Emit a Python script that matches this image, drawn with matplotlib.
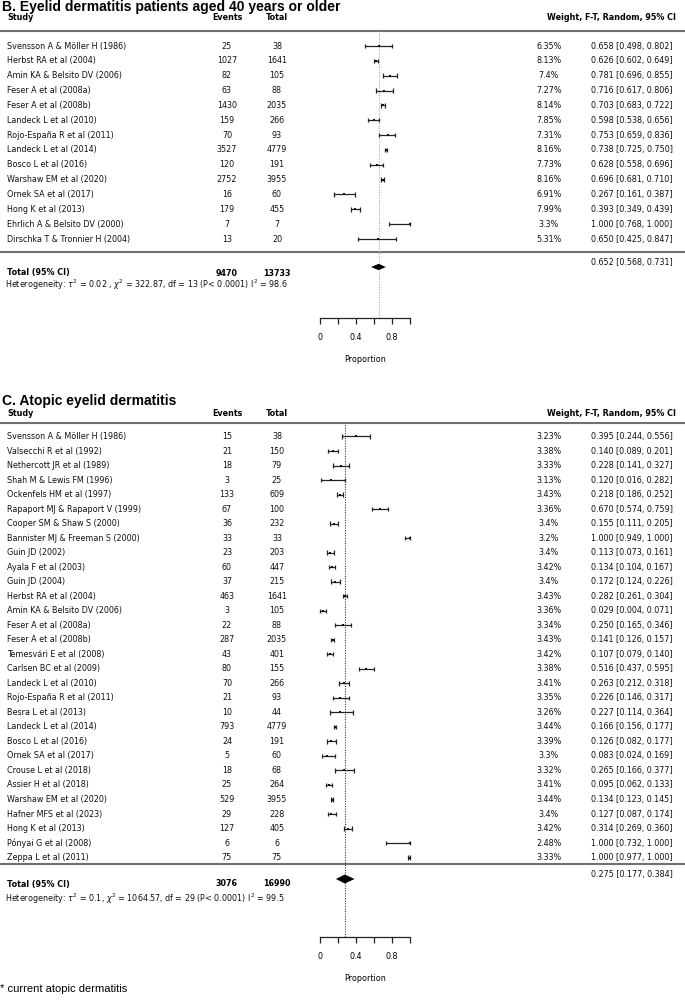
import matplotlib
matplotlib.use("Agg")
import matplotlib.pyplot as plt

# ---------------- data ----------------
b_title = "B. Eyelid dermatitis patients aged 40 years or older"
b_studies = ["Svensson A & Möller H (1986)", "Herbst RA et al (2004)", "Amin KA & Belsito DV (2006)",
             "Feser A et al (2008a)", "Feser A et al (2008b)", "Landeck L et al (2010)",
             "Rojo-España R et al (2011)", "Landeck L et al (2014)", "Bosco L et al (2016)",
             "Warshaw EM et al (2020)", "Ornek SA et al (2017)", "Hong K et al (2013)",
             "Ehrlich A & Belsito DV (2000)", "Dirschka T & Tronnier H (2004)"]
b_events = [25, 1027, 82, 63, 1430, 159, 70, 3527, 120, 2752, 16, 179, 7, 13]
b_total = [38, 1641, 105, 88, 2035, 266, 93, 4779, 191, 3955, 60, 455, 7, 20]
b_weight = ["6.35%", "8.13%", "7.4%", "7.27%", "8.14%", "7.85%", "7.31%", "8.16%", "7.73%",
            "8.16%", "6.91%", "7.99%", "3.3%", "5.31%"]
b_est = [0.658, 0.626, 0.781, 0.716, 0.703, 0.598, 0.753, 0.738, 0.628, 0.696, 0.267, 0.393, 1.000, 0.650]
b_lo = [0.498, 0.602, 0.696, 0.617, 0.683, 0.538, 0.659, 0.725, 0.558, 0.681, 0.161, 0.349, 0.768, 0.425]
b_hi = [0.802, 0.649, 0.855, 0.806, 0.722, 0.656, 0.836, 0.750, 0.696, 0.710, 0.387, 0.439, 1.000, 0.847]
b_sum = (0.652, 0.568, 0.731)
b_sum_events, b_sum_total = 9470, 13733
b_het = r"Heterogeneity: $\tau^2$ = 0.02 , $\chi^2$ = 322.87, df = 13 (P< 0.0001) I$^2$ = 98.6"

c_title = "C. Atopic eyelid dermatitis"
c_studies = ["Svensson A & Möller H (1986)", "Valsecchi R et al (1992)", "Nethercott JR et al (1989)",
             "Shah M & Lewis FM (1996)", "Ockenfels HM et al (1997)", "Rapaport MJ & Rapaport V (1999)",
             "Cooper SM & Shaw S (2000)", "Bannister MJ & Freeman S (2000)", "Guin JD (2002)",
             "Ayala F et al (2003)", "Guin JD (2004)", "Herbst RA et al (2004)",
             "Amin KA & Belsito DV (2006)", "Feser A et al (2008a)", "Feser A et al (2008b)",
             "Temesvári E et al (2008)", "Carlsen BC et al (2009)", "Landeck L et al (2010)",
             "Rojo-España R et al (2011)", "Besra L et al (2013)", "Landeck L et al (2014)",
             "Bosco L et al (2016)", "Ornek SA et al (2017)", "Crouse L et al (2018)",
             "Assier H et al (2018)", "Warshaw EM et al (2020)", "Hafner MFS et al (2023)",
             "Hong K et al (2013)", "Pónyai G et al (2008)", "Zeppa L et al (2011)"]
c_events = [15, 21, 18, 3, 133, 67, 36, 33, 23, 60, 37, 463, 3, 22, 287, 43, 80, 70, 21, 10,
            793, 24, 5, 18, 25, 529, 29, 127, 6, 75]
c_total = [38, 150, 79, 25, 609, 100, 232, 33, 203, 447, 215, 1641, 105, 88, 2035, 401, 155, 266,
           93, 44, 4779, 191, 60, 68, 264, 3955, 228, 405, 6, 75]
c_weight = ["3.23%", "3.38%", "3.33%", "3.13%", "3.43%", "3.36%", "3.4%", "3.2%", "3.4%", "3.42%",
            "3.4%", "3.43%", "3.36%", "3.34%", "3.43%", "3.42%", "3.38%", "3.41%", "3.35%", "3.26%",
            "3.44%", "3.39%", "3.3%", "3.32%", "3.41%", "3.44%", "3.4%", "3.42%", "2.48%", "3.33%"]
c_est = [0.395, 0.140, 0.228, 0.120, 0.218, 0.670, 0.155, 1.000, 0.113, 0.134, 0.172, 0.282, 0.029,
         0.250, 0.141, 0.107, 0.516, 0.263, 0.226, 0.227, 0.166, 0.126, 0.083, 0.265, 0.095, 0.134,
         0.127, 0.314, 1.000, 1.000]
c_lo = [0.244, 0.089, 0.141, 0.016, 0.186, 0.574, 0.111, 0.949, 0.073, 0.104, 0.124, 0.261, 0.004,
        0.165, 0.126, 0.079, 0.437, 0.212, 0.146, 0.114, 0.156, 0.082, 0.024, 0.166, 0.062, 0.123,
        0.087, 0.269, 0.732, 0.977]
c_hi = [0.556, 0.201, 0.327, 0.282, 0.252, 0.759, 0.205, 1.000, 0.161, 0.167, 0.226, 0.304, 0.071,
        0.346, 0.157, 0.140, 0.595, 0.318, 0.317, 0.364, 0.177, 0.177, 0.169, 0.377, 0.133, 0.145,
        0.174, 0.360, 1.000, 1.000]
c_sum = (0.275, 0.177, 0.384)
c_sum_events, c_sum_total = 3076, 16990
c_het = r"Heterogeneity: $\tau^2$ = 0.1, $\chi^2$ = 1064.57, df = 29 (P< 0.0001) I$^2$ = 99.5"

footnote = "* current atopic dermatitis"
xticks = [0, 0.2, 0.4, 0.6, 0.8, 1.0]
xticklabels = ["0", "", "0.4", "", "0.8", ""]

# ---------------- layout ----------------
W, H = 685, 1002
fig = plt.figure(figsize=(W / 100, H / 100), dpi=100)
axT = fig.add_axes([0, 0, 1, 1])
axT.set_xlim(0, W)
axT.set_ylim(H, 0)
axT.axis("off")

FS = 5.8
BODY = "DejaVu Sans"
X_STUDY, X_EV, X_TOT, X_W, X_CI, X_HDR_R = 7, 227, 277, 549, 632, 676
AX_L, AX_R = 320, 410
LINE_C = "#707070"


def panel(title, title_y, hdr_y, hdr_line_y, row0, step, studies, events, totals, weights,
          est, lo, hi, sum_vals, sum_ev, sum_tot, het, sep_y, tot_y, diam_y, diam_h, het_y,
          axis_y, sq, vcol):
    axT.text(2, title_y, title, fontsize=10, fontweight="bold", family="Liberation Sans",
             va="center", ha="left")
    axT.text(X_STUDY, hdr_y, "Study", fontsize=FS, fontweight="bold", family=BODY, va="center")
    axT.text(X_EV, hdr_y, "Events", fontsize=FS, fontweight="bold", family=BODY, va="center", ha="center")
    axT.text(X_TOT, hdr_y, "Total", fontsize=FS, fontweight="bold", family=BODY, va="center", ha="center")
    axT.text(X_HDR_R, hdr_y, "Weight, F-T, Random, 95% CI", fontsize=FS, fontweight="bold",
             family=BODY, va="center", ha="right")
    axT.plot([0, W], [hdr_line_y, hdr_line_y], color=LINE_C, lw=1.5)
    axT.plot([0, W], [sep_y, sep_y], color=LINE_C, lw=1.5)

    ys = [row0 + i * step for i in range(len(studies))]
    for y, s, e, t, w, m, l, h in zip(ys, studies, events, totals, weights, est, lo, hi):
        axT.text(X_STUDY, y, s, fontsize=FS, family=BODY, va="center", color="#111")
        axT.text(X_EV, y, str(e), fontsize=FS, family=BODY, va="center", ha="center", color="#111")
        axT.text(X_TOT, y, str(t), fontsize=FS, family=BODY, va="center", ha="center", color="#111")
        axT.text(X_W, y, w, fontsize=FS, family=BODY, va="center", ha="center", color="#111")
        axT.text(X_CI, y, f"{m:.3f} [{l:.3f}, {h:.3f}]", fontsize=FS, family=BODY,
                 va="center", ha="center", color="#111")

    axT.text(X_STUDY, tot_y, "Total (95% CI)", fontsize=FS, fontweight="bold", family=BODY, va="center")
    axT.text(X_EV, tot_y, str(sum_ev), fontsize=FS, fontweight="bold", family=BODY, va="center", ha="center")
    axT.text(X_TOT, tot_y, str(sum_tot), fontsize=FS, fontweight="bold", family=BODY, va="center", ha="center")
    axT.text(X_CI, diam_y - 4, f"{sum_vals[0]:.3f} [{sum_vals[1]:.3f}, {sum_vals[2]:.3f}]",
             fontsize=FS, family=BODY, va="center", ha="center", color="#111")
    axT.text(X_STUDY - 2, het_y, het, fontsize=FS, family=BODY, va="center", color="#111")

    # forest axes: x in proportion units, y in pixel rows
    ax = fig.add_axes([AX_L / W, 1 - axis_y / H, (AX_R - AX_L) / W, (axis_y - hdr_line_y) / H])
    ax.set_xlim(0, 1)
    ax.set_ylim(axis_y, hdr_line_y)
    ax.patch.set_alpha(0)
    for sp in ["top", "left", "right"]:
        ax.spines[sp].set_visible(False)
    ax.spines["bottom"].set_linewidth(0.9)
    ax.spines["bottom"].set_color("#222")
    ax.set_yticks([])
    ax.set_xticks(xticks)
    ax.set_xticklabels(xticklabels, fontsize=FS, family=BODY)
    ax.tick_params(axis="x", length=4.5, width=0.9, color="#222", pad=6)
    ax.set_xlabel("Proportion", fontsize=FS, family=BODY, labelpad=9.5)

    ax.axvline(sum_vals[0], ymin=0, ymax=1, ls=(0, (1, 1.3)), lw=0.8, color=vcol, zorder=1)
    ax.hlines(ys, lo, hi, color="#222", lw=0.9, clip_on=False, zorder=3)
    ax.vlines(lo, [y - 2.2 for y in ys], [y + 2.2 for y in ys], color="#222", lw=0.9, clip_on=False, zorder=3)
    ax.vlines(hi, [y - 2.2 for y in ys], [y + 2.2 for y in ys], color="#222", lw=0.9, clip_on=False, zorder=3)
    ax.scatter(est, ys, marker="s", s=sq, color="#111", lw=0, clip_on=False, zorder=4)
    m, l, h = sum_vals
    ax.fill([l, m, h, m], [diam_y, diam_y - diam_h, diam_y, diam_y + diam_h], color="black",
            lw=0, zorder=5)


panel(b_title, 7, 17, 31, 46, 14.85, b_studies, b_events, b_total, b_weight, b_est, b_lo, b_hi,
      b_sum, b_sum_events, b_sum_total, b_het, sep_y=252, tot_y=273, diam_y=267, diam_h=3.2,
      het_y=285, axis_y=318, sq=4.5, vcol="#aaaaaa")

panel(c_title, 401, 413, 423, 436.5, 14.52, c_studies, c_events, c_total, c_weight, c_est, c_lo, c_hi,
      c_sum, c_sum_events, c_sum_total, c_het, sep_y=864, tot_y=884, diam_y=879, diam_h=4.5,
      het_y=899, axis_y=937, sq=2.5, vcol="#333333")

axT.text(0, 989, footnote, fontsize=8, family="Liberation Sans", va="center", ha="left")

fig.savefig("out.png", dpi=100)
